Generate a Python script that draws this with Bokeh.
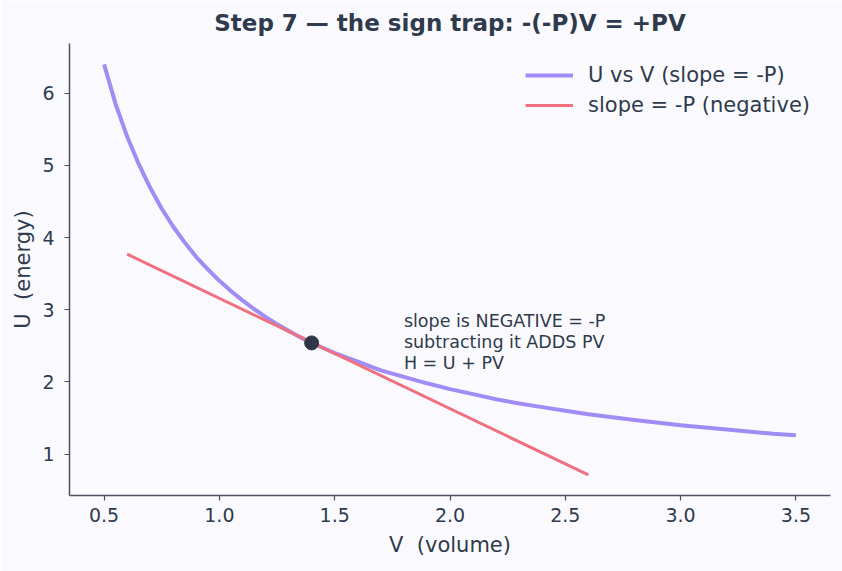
from bokeh.plotting import figure
from bokeh.models import Range1d, Label, Legend, LegendItem, FixedTicker, Title, PrintfTickFormatter
from bokeh.embed import file_html
from bokeh.resources import INLINE

# curve U vs V
V_curve = [0.5, 0.55, 0.6, 0.65, 0.7, 0.75, 0.8, 0.85, 0.9, 0.95, 1.0, 1.05, 1.1, 1.15,
           1.2, 1.25, 1.3, 1.35, 1.4, 1.45, 1.5, 1.6, 1.7, 1.8, 1.9, 2.0, 2.1, 2.2,
           2.3, 2.4, 2.5, 2.6, 2.8, 3.0, 3.2, 3.4, 3.5]
U_curve = [6.40, 5.85, 5.40, 5.02, 4.69, 4.40, 4.15, 3.93, 3.73, 3.56, 3.40, 3.26, 3.13, 3.01,
           2.90, 2.80, 2.71, 2.62, 2.54, 2.47, 2.40, 2.28, 2.16, 2.07, 1.98, 1.90, 1.83, 1.76,
           1.70, 1.65, 1.60, 1.55, 1.47, 1.40, 1.34, 1.28, 1.26]

# tangent line endpoints
V_tan = [0.6, 2.6]
U_tan = [3.77, 0.71]

# point of tangency
V_pt = [1.4]
U_pt = [2.54]

x_ticks = [0.5, 1.0, 1.5, 2.0, 2.5, 3.0, 3.5]
y_ticks = [1, 2, 3, 4, 5, 6]

BG = "#fafafe"
TXT = "#2f3a4c"
AX = "#4b5160"
FONT = "DejaVu Sans"
NB = "\u00a0"

p = figure(width=842, height=571, output_backend="svg", toolbar_location=None,
           x_range=Range1d(0.35, 3.65), y_range=Range1d(0.425, 6.69),
           background_fill_color=BG, border_fill_color=BG,
           min_border_left=69, min_border_right=12, min_border_top=43, min_border_bottom=76)
p.outline_line_color = None
p.grid.visible = False

p.title = Title(text="Step 7 \u2014 the sign trap: -(-P)V = +PV", align="center",
                text_font=FONT, text_font_size="23px", text_font_style="bold",
                text_color=TXT, offset=0, standoff=15)

r1 = p.line(V_curve, U_curve, line_color="#a08cf4", line_width=4, line_join="round")
r2 = p.line(V_tan, U_tan, line_color="#f0707f", line_width=3)
p.scatter(V_pt, U_pt, size=14, fill_color="#2d3748", line_color="#2d3748")

lab = Label(x=1.8, y=2.55, text="slope is NEGATIVE = -P\nsubtracting it ADDS PV\nH = U + PV",
            text_font=FONT, text_font_size="17.5px", text_color=TXT,
            text_baseline="middle", text_align="left", text_line_height=1.05)
p.add_layout(lab)

legend = Legend(items=[LegendItem(label="U vs V (slope = -P)", renderers=[r1]),
                       LegendItem(label="slope = -P (negative)", renderers=[r2])],
                location="top_right", border_line_color=None, background_fill_alpha=0,
                label_text_font=FONT, label_text_font_size="21px", label_text_color=TXT,
                glyph_width=48, label_standoff=15, spacing=6, margin=20, padding=6,
                label_height=24)
p.add_layout(legend)

for ax, ticks in ((p.xaxis, x_ticks), (p.yaxis, y_ticks)):
    ax.ticker = FixedTicker(ticks=ticks)
    ax.axis_line_color = AX
    ax.axis_line_width = 1.5
    ax.major_tick_line_color = AX
    ax.major_tick_line_width = 1.2
    ax.major_tick_out = 5
    ax.major_tick_in = 0
    ax.minor_tick_line_color = None
    ax.major_label_text_font = FONT
    ax.major_label_text_font_size = "19px"
    ax.major_label_text_color = TXT
    ax.axis_label_text_font = FONT
    ax.axis_label_text_font_size = "21px"
    ax.axis_label_text_color = TXT
    ax.axis_label_text_font_style = "normal"
    ax.axis_label_standoff = 8

p.xaxis.axis_label = "V" + NB + NB + "(volume)"
p.yaxis.axis_label = "U" + NB + NB + "(energy)"
p.yaxis.axis_label_standoff = 4
p.xaxis.formatter = PrintfTickFormatter(format="%.1f")
p.xaxis.major_label_standoff = 7
p.yaxis.major_label_standoff = 10

open("out.html", "w").write(file_html(p, INLINE))
